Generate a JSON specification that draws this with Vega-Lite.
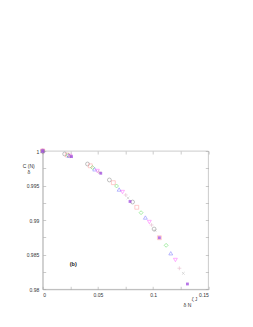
{
 "$schema": "https://vega.github.io/schema/vega-lite/v6.json",
 "width": 165.6, "height": 138.3,
 "autosize": {"type": "none"},
 "padding": {"left": 42.7, "top": 151, "right": 44.7, "bottom": 37.7},
 "background": "white",
 "config": {
  "view": {"stroke": "#a8a8a8", "strokeWidth": 0.6},
  "axis": {"domainColor": "#a8a8a8", "domainWidth": 0.6, "tickColor": "#a8a8a8", "tickWidth": 0.6, "tickSize": -3, "labelColor": "#333333", "labelFont": "Liberation Sans", "labelFontSize": 5, "titleFont": "Liberation Sans", "titleFontSize": 5, "titleFontWeight": "normal", "titleColor": "#333333", "grid": false}
 },
 "datasets": {
  "pts": [
   {"s":"a","x":0,"y":1},{"s":"b","x":0,"y":1},{"s":"c","x":0,"y":1},{"s":"d","x":0,"y":1},{"s":"e","x":0,"y":1},{"s":"f","x":0,"y":1},{"s":"g","x":0,"y":1},{"s":"h","x":0,"y":1},
   {"s":"a","x":0.0199,"y":0.99957},{"s":"b","x":0.0223,"y":0.99942},{"s":"c","x":0.0232,"y":0.99938},{"s":"d","x":0.0238,"y":0.99932},{"s":"e","x":0.0247,"y":0.99928},{"s":"f","x":0.0252,"y":0.99925},{"s":"g","x":0.0257,"y":0.99922},{"s":"h","x":0.0261,"y":0.99919},
   {"s":"a","x":0.0406,"y":0.99812},{"s":"b","x":0.0431,"y":0.99786},{"s":"c","x":0.0451,"y":0.99761},{"s":"d","x":0.0471,"y":0.99735},{"s":"e","x":0.0495,"y":0.99711},{"s":"f","x":0.0508,"y":0.99695},{"s":"g","x":0.0517,"y":0.99686},{"s":"h","x":0.0526,"y":0.99678},
   {"s":"a","x":0.0604,"y":0.99581},{"s":"b","x":0.0640,"y":0.99542},{"s":"c","x":0.0669,"y":0.99494},{"s":"d","x":0.0692,"y":0.99443},{"s":"e","x":0.0723,"y":0.99407},{"s":"f","x":0.0752,"y":0.99364},{"s":"g","x":0.0773,"y":0.99320},{"s":"h","x":0.0791,"y":0.99270},
   {"s":"a","x":0.0814,"y":0.99262},{"s":"b","x":0.0852,"y":0.99186},{"s":"c","x":0.0891,"y":0.99108},{"s":"d","x":0.0930,"y":0.99038},{"s":"e","x":0.0966,"y":0.98973},{"s":"f","x":0.0986,"y":0.98930},{"s":"g","x":0.1018,"y":0.98850},{"s":"h","x":0.1057,"y":0.98746},
   {"s":"a","x":0.1009,"y":0.98872},{"s":"b","x":0.1057,"y":0.98746},{"s":"c","x":0.1118,"y":0.98636},{"s":"d","x":0.1160,"y":0.98521},{"s":"e","x":0.1202,"y":0.98424},{"s":"f","x":0.1238,"y":0.98304},{"s":"g","x":0.1274,"y":0.98231},{"s":"h","x":0.1311,"y":0.98077}
  ],
  "ann": [
   {"x": 0.0277, "y": 0.98361, "t": "(b)"}
  ],
  "sup": [
   {"x": 0.1375, "y": 0.97845, "t": "ζ J"}
  ]
 },
 "layer": [
  {
   "data": {"name": "pts"},
   "transform": [{"filter": "datum.s != 'h'"}],
   "mark": {"type": "point", "filled": false, "size": 15, "strokeWidth": 0.6},
   "encoding": {
    "x": {"field": "x", "type": "quantitative", "scale": {"domain": [0, 0.15], "nice": false, "zero": false},
     "axis": {"orient": "bottom", "values": [0, 0.025, 0.05, 0.075, 0.1, 0.125, 0.15], "labelExpr": "round(datum.value*1000) % 50 == 0 ? format(datum.value, '~g') : ''", "labelPadding": 6, "title": "δ N", "titleX": 144.3, "titleY": 14.7, "titleBaseline": "middle", "titleAlign": "center"}},
    "y": {"field": "y", "type": "quantitative", "scale": {"domain": [0.98, 1], "nice": false, "zero": false},
     "axis": {"orient": "left", "values": [0.98, 0.9825, 0.985, 0.9875, 0.99, 0.9925, 0.995, 0.9975, 1], "labelExpr": "round(datum.value*10000) % 50 == 0 ? format(datum.value, '~g') : ''", "labelPadding": 7, "title": ["C (N)", "δ"], "titleAngle": 0, "titleX": -14.4, "titleY": 14, "titleAlign": "center", "titleBaseline": "middle", "titleLineHeight": 6}},
    "shape": {"field": "s", "type": "nominal", "legend": null, "scale": {"domain": ["a","b","c","d","e","f","g"], "range": ["circle","square","diamond","triangle-up","triangle-down","M-1,0H1M0,-1V1","M-0.7,-0.7L0.7,0.7M-0.7,0.7L0.7,-0.7"]}},
    "color": {"field": "s", "type": "nominal", "legend": null, "scale": {"domain": ["a","b","c","d","e","f","g"], "range": ["#6e6e6e","#ff8a8a","#33d633","#5a5aff","#ff40ff","#d8a0b8","#b0b0b0"]}}
   }
  },
  {
   "data": {"name": "pts"},
   "transform": [{"filter": "datum.s == 'h'"}],
   "mark": {"type": "square", "filled": true, "size": 8, "color": "#9a3ddd"},
   "encoding": {
    "x": {"field": "x", "type": "quantitative", "axis": null},
    "y": {"field": "y", "type": "quantitative", "axis": null}
   }
  },
  {
   "data": {"name": "ann"},
   "mark": {"type": "text", "fontSize": 5.5, "fontWeight": "bold", "font": "Liberation Sans", "color": "#222222"},
   "encoding": {
    "x": {"field": "x", "type": "quantitative", "axis": null},
    "y": {"field": "y", "type": "quantitative", "axis": null},
    "text": {"field": "t"}
   }
  },
  {
   "data": {"name": "sup"},
   "mark": {"type": "text", "fontSize": 4.5, "font": "Liberation Sans", "color": "#333333"},
   "encoding": {
    "x": {"field": "x", "type": "quantitative", "axis": {"orient": "top", "values": [0, 0.025, 0.05, 0.075, 0.1, 0.125, 0.15], "labels": false, "domain": false, "title": null}},
    "y": {"field": "y", "type": "quantitative", "axis": {"orient": "right", "values": [0.98, 0.9825, 0.985, 0.9875, 0.99, 0.9925, 0.995, 0.9975, 1], "labels": false, "domain": false, "title": null}},
    "text": {"field": "t"}
   }
  }
 ],
 "resolve": {"axis": {"x": "independent", "y": "independent"}}
}
